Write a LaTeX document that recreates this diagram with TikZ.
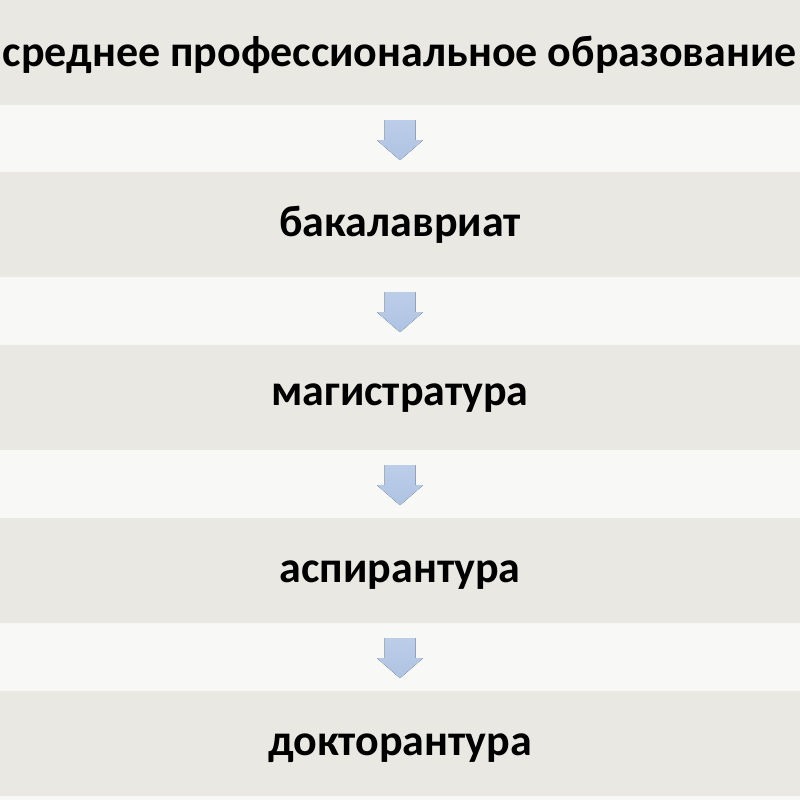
\documentclass[tikz,border=0pt]{standalone}
\usepackage{fontspec}
\setmainfont{Carlito}
\definecolor{band}{HTML}{EAE8E2}
\definecolor{gapc}{HTML}{F8F8F6}
\definecolor{arrfill}{HTML}{AEC3E3}
\definecolor{arrtop}{HTML}{BCCDE8}
\tikzset{
  bandbox/.style={fill=band, draw=none, minimum width=800pt, minimum height=105pt, inner sep=0pt,
    font=\fontsize{44}{50}\selectfont\bfseries, text=black},
  blockarrow/.style={top color=arrtop, bottom color=arrfill, draw=none}
}
\begin{document}
\begin{tikzpicture}[x=1pt,y=-1pt]
\useasboundingbox (0,0) rectangle (800,800);
\fill[gapc] (0,0) rectangle (800,800);
\node[bandbox] (b1) at (400,52.5) {};
\node[bandbox] (b2) at (400,224.5) {};
\node[bandbox] (b3) at (400,397.5) {};
\node[bandbox] (b4) at (400,570.5) {};
\node[bandbox] (b5) at (400,743.5) {};
\node[font=\fontsize{44}{50}\selectfont\bfseries] (t1) at (400,55) {среднее профессиональное образование};
\node[font=\fontsize{44}{50}\selectfont\bfseries] (t2) at (400,225) {бакалавриат};
\node[font=\fontsize{44}{50}\selectfont\bfseries] (t3) at (400,398) {магистратура};
\node[font=\fontsize{44}{50}\selectfont\bfseries] (t4) at (400,575) {аспирантура};
\node[font=\fontsize{44}{50}\selectfont\bfseries] (t5) at (400,748) {докторантура};
\foreach \a in {b1,b2,b3,b4}{
  \path (\a.south) ++(0,15) coordinate (\a-arr);
  \fill[blockarrow] (\a-arr) ++(-15.5,0) -- ++(31,0) -- ++(0,20) -- ++(7.5,0) -- ++(-23,20) -- ++(-23,-20) -- ++(7.5,0) -- cycle;
}
\end{tikzpicture}
\end{document}
